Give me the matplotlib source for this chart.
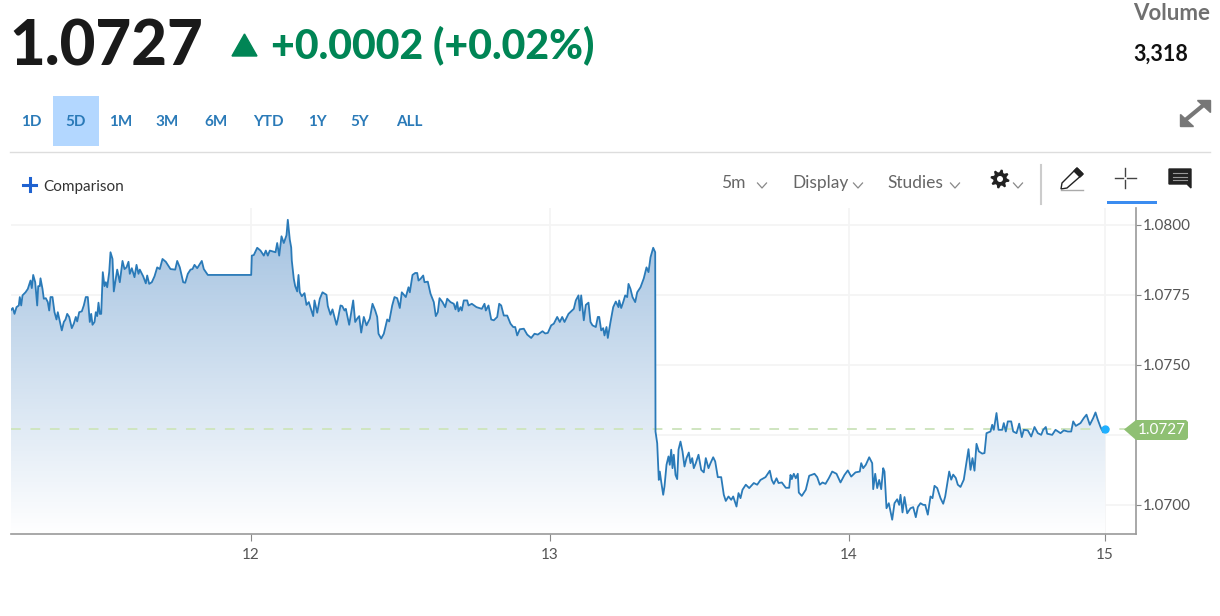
import numpy as np
import matplotlib
matplotlib.use("Agg")
import matplotlib.pyplot as plt
from matplotlib.patches import Circle, Polygon, Rectangle

plt.rcParams["font.family"] = ["Lato", "DejaVu Sans"]

# bar = 5-minute bar position on the chart, read off the picture section by section
# ten values per line, so bars and prices can be checked against each other
bars_11_12 = [0, 2.3, 4, 6, 8.3, 9.3, 10.7, 12, 15, 17.3,
              20, 21.3, 22.7, 24.7, 26.7, 27.7, 29.3, 30, 32, 33.3,
              35.3, 37.3, 38.7, 40, 42, 44, 46, 47.3, 49.3, 51.3,
              53.3, 55, 56.7, 58.7, 61.3, 63.3, 65.3, 66.7, 68.7, 71.3,
              73.3, 75.3, 77.3, 79.3, 80.7, 82, 84, 85.3, 86.7, 88,
              89.3, 90.7, 92.3, 94, 95.3, 96.7, 98.7, 100, 102, 103.3,
              105.3, 106.7, 109.3, 112, 114, 116, 118, 119.3, 121.3, 124,
              126, 128, 129.3, 132.7, 135.3, 136.7, 138.7, 141.3, 144, 146.7,
              149.3, 152, 155.3, 160, 164.7, 166.7, 169.3, 172.7, 174.7, 177.3,
              180, 182, 184, 186.7, 191.3, 193.3, 197.3, 240.7, 241.3, 243.3,
              246.7, 250, 253.3, 255.3, 257.3, 259.3, 265, 266.7, 268.7, 271,
              273.3, 276, 277.3, 279.3, 280.7, 281.3, 283.3, 284.7, 286.7, 288,
              289.3, 291.3, 294, 296, 298.3, 302.7, 304, 306.7, 309.3, 312,
              316, 317.3, 320, 322, 326, 327.3, 330]
price_11_12 = [1.07694, 1.07703, 1.07682, 1.07706, 1.07712, 1.07742, 1.07712, 1.07748, 1.07759, 1.07771,
               1.07801, 1.07774, 1.07821, 1.07795, 1.07712, 1.07781, 1.07781, 1.07809, 1.07771, 1.07736,
               1.07738, 1.07724, 1.07694, 1.07742, 1.07742, 1.07688, 1.07662, 1.07688, 1.07655, 1.07623,
               1.07653, 1.07662, 1.07682, 1.07671, 1.07631, 1.07647, 1.07671, 1.07655, 1.07688, 1.07691,
               1.07712, 1.07742, 1.07742, 1.07653, 1.07682, 1.07643, 1.07653, 1.07688, 1.07674, 1.07722,
               1.07682, 1.07682, 1.07831, 1.07781, 1.07795, 1.07777, 1.07831, 1.07902, 1.07878, 1.07762,
               1.07807, 1.07840, 1.07795, 1.07871, 1.07842, 1.07848, 1.07868, 1.07825, 1.07845, 1.07813,
               1.07857, 1.07825, 1.07840, 1.07816, 1.07791, 1.07819, 1.07789, 1.07795, 1.07816, 1.07848,
               1.07842, 1.07878, 1.07868, 1.07842, 1.07840, 1.07871, 1.07848, 1.07795, 1.07793, 1.07825,
               1.07840, 1.07842, 1.07857, 1.07845, 1.07871, 1.07842, 1.07821, 1.07821, 1.07890, 1.07892,
               1.07918, 1.07908, 1.07890, 1.07908, 1.07890, 1.07908, 1.07902, 1.07935, 1.07890, 1.07959,
               1.07935, 1.07963, 1.08018, 1.07947, 1.07919, 1.07872, 1.07807, 1.07781, 1.07762, 1.07821,
               1.07759, 1.07745, 1.07756, 1.07714, 1.07724, 1.07674, 1.07730, 1.07686, 1.07736, 1.07759,
               1.07750, 1.07710, 1.07679, 1.07698, 1.07643, 1.07662, 1.07712]

bars_12_13 = [331.7, 334, 335.3, 338.7, 342.7, 344.7, 346.7, 348.7, 350.7, 353.3,
              356, 359.3, 362, 364.7, 366.7, 368, 370.7, 373.3, 376.7, 378.7,
              381.7, 384, 386.7, 389.3, 391.3, 395.3, 398, 399.3, 402, 404.7,
              406.7, 408, 410, 412.7, 414, 417.3, 420, 423.3, 425.3, 427.3,
              429, 432, 434.7, 436.7, 440, 443.3, 445, 446.7, 448, 450,
              451.3, 453.3, 456.7, 458, 461.3, 466, 471.3, 474, 475.3, 478,
              480.7, 483.3, 486.7, 488.7, 490.7, 493.3, 496.7, 500, 502.7, 504.7,
              506.7, 509.3, 513.3, 516.7, 520.7, 524, 527.3, 532, 534.7, 537.3,
              540.7, 543.3, 546.7, 549.3, 551.7, 554, 558, 563.3, 565.3, 568,
              569.3, 570.7, 573.3, 575.3, 578, 580, 582, 585.3, 587.3, 588.7,
              590.7, 592.7, 594, 596, 597.3, 600, 602.7, 605.3, 608, 608.7,
              610.7, 612.7, 614.7, 616.7, 618, 620, 622, 624.7, 626.7, 630,
              633.3, 636, 638, 640, 642.7, 644.7, 645]
price_12_13 = [1.07710, 1.07694, 1.07700, 1.07643, 1.07730, 1.07653, 1.07665, 1.07674, 1.07615, 1.07671,
               1.07641, 1.07665, 1.07718, 1.07694, 1.07671, 1.07611, 1.07594, 1.07611, 1.07662, 1.07655,
               1.07712, 1.07742, 1.07738, 1.07703, 1.07759, 1.07742, 1.07777, 1.07759, 1.07821, 1.07828,
               1.07828, 1.07801, 1.07807, 1.07819, 1.07795, 1.07797, 1.07754, 1.07724, 1.07674, 1.07688,
               1.07738, 1.07724, 1.07706, 1.07736, 1.07724, 1.07718, 1.07698, 1.07724, 1.07691, 1.07706,
               1.07694, 1.07730, 1.07730, 1.07712, 1.07718, 1.07706, 1.07700, 1.07718, 1.07694, 1.07712,
               1.07662, 1.07659, 1.07671, 1.07718, 1.07712, 1.07676, 1.07676, 1.07647, 1.07635, 1.07635,
               1.07605, 1.07627, 1.07629, 1.07608, 1.07596, 1.07611, 1.07608, 1.07620, 1.07612, 1.07614,
               1.07641, 1.07647, 1.07671, 1.07653, 1.07671, 1.07653, 1.07682, 1.07700, 1.07730, 1.07748,
               1.07694, 1.07748, 1.07659, 1.07714, 1.07722, 1.07653, 1.07641, 1.07635, 1.07671, 1.07671,
               1.07623, 1.07631, 1.07605, 1.07635, 1.07596, 1.07653, 1.07706, 1.07726, 1.07706, 1.07730,
               1.07703, 1.07724, 1.07748, 1.07742, 1.07789, 1.07771, 1.07742, 1.07724, 1.07759, 1.07777,
               1.07809, 1.07848, 1.07831, 1.07884, 1.07918, 1.07902, 1.07262]

bars_13_14 = [646.7, 648.3, 649.3, 650.7, 652.7, 654, 656, 658, 659.3, 660.7, 662, 663.3, 665, 666.7, 668, 670, 672,
              674, 676, 678.3, 680, 681.7, 683.3, 685.3, 688, 690.7, 693.3, 695.3, 698, 700, 702.7, 704.7, 707.3,
              710.7, 713.3, 715.3, 718, 720.7, 722.7, 726, 728, 730, 732, 735.3, 738.7, 743.3, 746.7, 750, 755, 759.3,
              761.3, 763.3, 766, 768, 771.3, 775.3, 778.7, 780, 781.3, 783.3, 785.3, 787.3, 788.3, 791.3, 795.3, 798.7,
              804, 806.7, 809.3, 812, 815, 818.3, 821.7, 826, 830, 834, 837.3, 840.7, 845, 849.3, 850.7, 852.7, 855.3,
              858.7, 861.7, 862.7, 864.7, 866.7, 868.7, 870.7, 872.7, 874, 876, 878.3, 881.7, 884, 886.7, 888.7, 890,
              892, 894, 896.7, 900, 902.7, 905.3, 907.3]
price_13_14 = [1.07220, 1.07089, 1.07119, 1.07083, 1.07036, 1.07066, 1.07143, 1.07173, 1.07143, 1.07197, 1.07131,
               1.07179, 1.07107, 1.07092, 1.07197, 1.07226, 1.07191, 1.07137, 1.07167, 1.07187, 1.07149, 1.07167,
               1.07131, 1.07149, 1.07179, 1.07125, 1.07116, 1.07167, 1.07131, 1.07149, 1.07170, 1.07155, 1.07099,
               1.07099, 1.07036, 1.07014, 1.07030, 1.07018, 1.07030, 1.06994, 1.07042, 1.07024, 1.07054, 1.07072,
               1.07060, 1.07078, 1.07072, 1.07089, 1.07099, 1.07122, 1.07089, 1.07075, 1.07095, 1.07078, 1.07080,
               1.07061, 1.07061, 1.07107, 1.07092, 1.07111, 1.07095, 1.07111, 1.07044, 1.07032, 1.07054, 1.07104,
               1.07111, 1.07099, 1.07072, 1.07080, 1.07075, 1.07095, 1.07119, 1.07111, 1.07080, 1.07107, 1.07123,
               1.07101, 1.07116, 1.07119, 1.07149, 1.07131, 1.07143, 1.07170, 1.07149, 1.07056, 1.07111, 1.07060,
               1.07089, 1.07056, 1.07131, 1.07119, 1.06988, 1.07006, 1.06947, 1.07006, 1.07020, 1.07000, 1.07036,
               1.06973, 1.07028, 1.06970, 1.06988, 1.06992, 1.06956, 1.06992]

bars_14_15 = [910, 912.7, 914.7, 917.3, 920, 922, 924, 926.7, 930, 932.7, 934.7, 938.7, 940.7, 942.7, 945.3, 947.3,
              950, 953.3, 955.3, 958, 960, 962, 964, 966, 968.3, 971.7, 974, 976, 980, 981.7, 983.3, 986, 988, 991.7,
              993.3, 995.3, 997.3, 1000.7, 1002.7, 1006, 1008.7, 1011.3, 1013.3, 1017.3, 1020.7, 1024, 1027.3, 1030.7,
              1032.7, 1035.3, 1036.7, 1041.7, 1045, 1050, 1053.3, 1057.3, 1060.7, 1062.7, 1065.3, 1070, 1073.3, 1076,
              1079.3, 1082.7, 1085, 1087.3, 1090, 1092.7, 1094.7]
price_14_15 = [1.07006, 1.07000, 1.07000, 1.06965, 1.07030, 1.07024, 1.07068, 1.07060, 1.07024, 1.07004, 1.07030,
               1.07119, 1.07090, 1.07108, 1.07096, 1.07072, 1.07064, 1.07090, 1.07137, 1.07199, 1.07125, 1.07167,
               1.07122, 1.07218, 1.07191, 1.07183, 1.07185, 1.07256, 1.07262, 1.07286, 1.07268, 1.07328, 1.07268,
               1.07268, 1.07292, 1.07262, 1.07298, 1.07298, 1.07262, 1.07256, 1.07290, 1.07242, 1.07268, 1.07266,
               1.07244, 1.07278, 1.07256, 1.07250, 1.07268, 1.07278, 1.07254, 1.07250, 1.07268, 1.07256, 1.07266,
               1.07262, 1.07262, 1.07298, 1.07282, 1.07292, 1.07310, 1.07322, 1.07286, 1.07310, 1.07330, 1.07304,
               1.07278, 1.07259, 1.07271]

bars = bars_11_12 + bars_12_13 + bars_13_14 + bars_14_15
price = price_11_12 + price_12_13 + price_13_14 + price_14_15

day_ticks = [240.5, 539.5, 838.5, 1094.5]
day_labels = ["12", "13", "14", "15"]
price_ticks = [1.0700, 1.0725, 1.0750, 1.0775, 1.0800]
price_labels = ["1.0700", "", "1.0750", "1.0775", "1.0800"]
last_price = 1.0727

range_buttons = ["1D", "5D", "1M", "3M", "6M", "YTD", "1Y", "5Y", "ALL"]
range_x = [31, 76, 121, 167, 216, 268, 317, 360, 409]

W, H = 1220, 616
fig = plt.figure(figsize=(W / 100, H / 100), dpi=100, facecolor="white")

# price chart
L, R, T, B = 10.5, 1135.5, 208, 534
ax = fig.add_axes([L / W, 1 - B / H, (R - L) / W, (B - T) / H])

grad = np.linspace(0, 1, 256).reshape(-1, 1)
top, bottom = np.array([0.64, 0.76, 0.88]), np.array([1.0, 1.0, 1.0])
img = (1 - grad[..., None]) * top + grad[..., None] * bottom
im = ax.imshow(img, extent=[0, R - L, 1.06896, 1.0803], aspect="auto", zorder=1, origin="upper")
area = ax.fill_between(bars, price, 1.06896, color="none", linewidth=0)
im.set_clip_path(area.get_paths()[0], transform=ax.transData)
ax.set_xlim(0, R - L)
ax.set_ylim(1.06896, 1.08060)

ax.plot(bars, price, color="#2a7ab8", linewidth=1.3, zorder=3)
ax.plot([0, 1115], [last_price, last_price], color="#cfe5c0", linewidth=1.4, dashes=(5, 5), zorder=2)
ax.plot(bars[-1], last_price, "o", color="#1fb0ff", markersize=5, zorder=4)

ax.set_xticks(day_ticks, day_labels)
ax.set_yticks(price_ticks, price_labels)
ax.yaxis.tick_right()
ax.tick_params(axis="both", length=3.5, color="#888888", labelcolor="#555555", labelsize=11, pad=2)
ax.tick_params(axis="x", length=5, pad=5)
ax.grid(True, color="#f4f4f4", linewidth=1.3)
ax.set_axisbelow(True)
for side in ["top", "left"]:
    ax.spines[side].set_visible(False)
for side in ["bottom", "right"]:
    ax.spines[side].set_color("#999999")
    ax.spines[side].set_linewidth(1.2)

# page furniture, drawn in pixel coordinates
ui = fig.add_axes([0, 0, 1, 1], facecolor="none")
ui.set_xlim(0, W)
ui.set_ylim(H, 0)
ui.axis("off")

ui.text(9, 66, "1.0727", fontsize=44.5, fontweight="black", color="#1a1a1a", va="baseline")
ui.add_patch(Polygon([[232, 56], [257, 56], [244.5, 34]], color="#008555"))
ui.text(271, 58.5, "+0.0002 (+0.02%)", fontsize=29.5, fontweight="black", color="#008555", va="baseline")
ui.text(1210, 13, "Volume", fontsize=16, fontweight="bold", color="#707070", ha="right", va="center")
ui.text(1188, 54, "3,318", fontsize=15.5, fontweight="bold", color="#111111", ha="right", va="center")

ui.add_patch(Rectangle((53, 96), 46, 50, color="#b3d7ff", linewidth=0))
for label, x in zip(range_buttons, range_x):
    ui.text(x, 122, label, fontsize=11, fontweight="bold", color="#2a7ab8", ha="center", va="center")
ui.plot([10, 1210], [151.5, 151.5], color="#dddddd", linewidth=1)

# expand arrows
ui.plot([1183, 1206], [122, 103], color="#777777", linewidth=3)
ui.add_patch(Polygon([[1197, 100], [1210, 100], [1210, 112]], color="#777777"))
ui.add_patch(Polygon([[1180, 114], [1180, 126], [1193, 126]], color="#777777"))

ui.plot([23, 36], [184.5, 184.5], color="#1f62d0", linewidth=2.2)
ui.plot([29.5, 29.5], [178, 191], color="#1f62d0", linewidth=2.2)
ui.text(43, 187, "Comparison", fontsize=11, color="#333333", va="center")

ui.text(721, 183, "5m", fontsize=12.5, color="#666666", va="center")
ui.text(792, 183, "Display", fontsize=12.5, color="#666666", va="center")
ui.text(887, 183, "Studies", fontsize=12.5, color="#666666", va="center")
for cx in [762, 858, 955, 1018]:
    ui.plot([cx - 4.5, cx, cx + 4.5], [183, 188, 183], color="#888888", linewidth=0.9)

# gear
angles = np.linspace(0, 2 * np.pi, 32, endpoint=False)
radii = np.where(np.arange(32) % 4 < 2, 9.5, 6.8)
gear_pts = np.column_stack([1000 + radii * np.cos(angles + 0.1), 179 + radii * np.sin(angles + 0.1)])
ui.add_patch(Polygon(gear_pts, color="#222222", linewidth=0))
ui.add_patch(Circle((1000, 179), 3, color="white", linewidth=0))
ui.plot([1041, 1041], [165, 204], color="#cccccc", linewidth=1.5)

# pencil
ui.add_patch(Polygon([[1077, 168], [1083, 174], [1067, 188], [1061, 189], [1062, 183]],
                     facecolor="white", edgecolor="#222222", linewidth=1))
ui.add_patch(Polygon([[1077, 168], [1083, 174], [1080, 177], [1074, 171]], color="#222222"))
ui.plot([1061, 1083], [189.5, 189.5], color="#aaaaaa", linewidth=1)

# crosshair
ui.plot([1115, 1123], [178, 178], color="#444444", linewidth=1)
ui.plot([1127, 1136], [178, 178], color="#444444", linewidth=1)
ui.plot([1125, 1125], [168, 176], color="#444444", linewidth=1)
ui.plot([1125, 1125], [180, 188], color="#444444", linewidth=1)
ui.add_patch(Rectangle((1107, 201), 50, 2.5, color="#3b8cf0", linewidth=0))

# comment bubble
ui.add_patch(Polygon([[1169, 169], [1191, 169], [1191, 188], [1187, 184], [1169, 184]], color="#222222"))
for y in [173, 176.5, 180]:
    ui.plot([1173, 1187], [y, y], color="#999999", linewidth=0.8)

# last price flag
ui.add_patch(Polygon([[1124, 429.5], [1136, 420], [1186, 420], [1188, 422], [1188, 438], [1186, 440], [1136, 440]],
                     color="#8fc073", linewidth=0))
ui.text(1162, 430.5, "1.0727", fontsize=11, color="white", ha="center", va="center")

fig.savefig("out.png", dpi=100)
